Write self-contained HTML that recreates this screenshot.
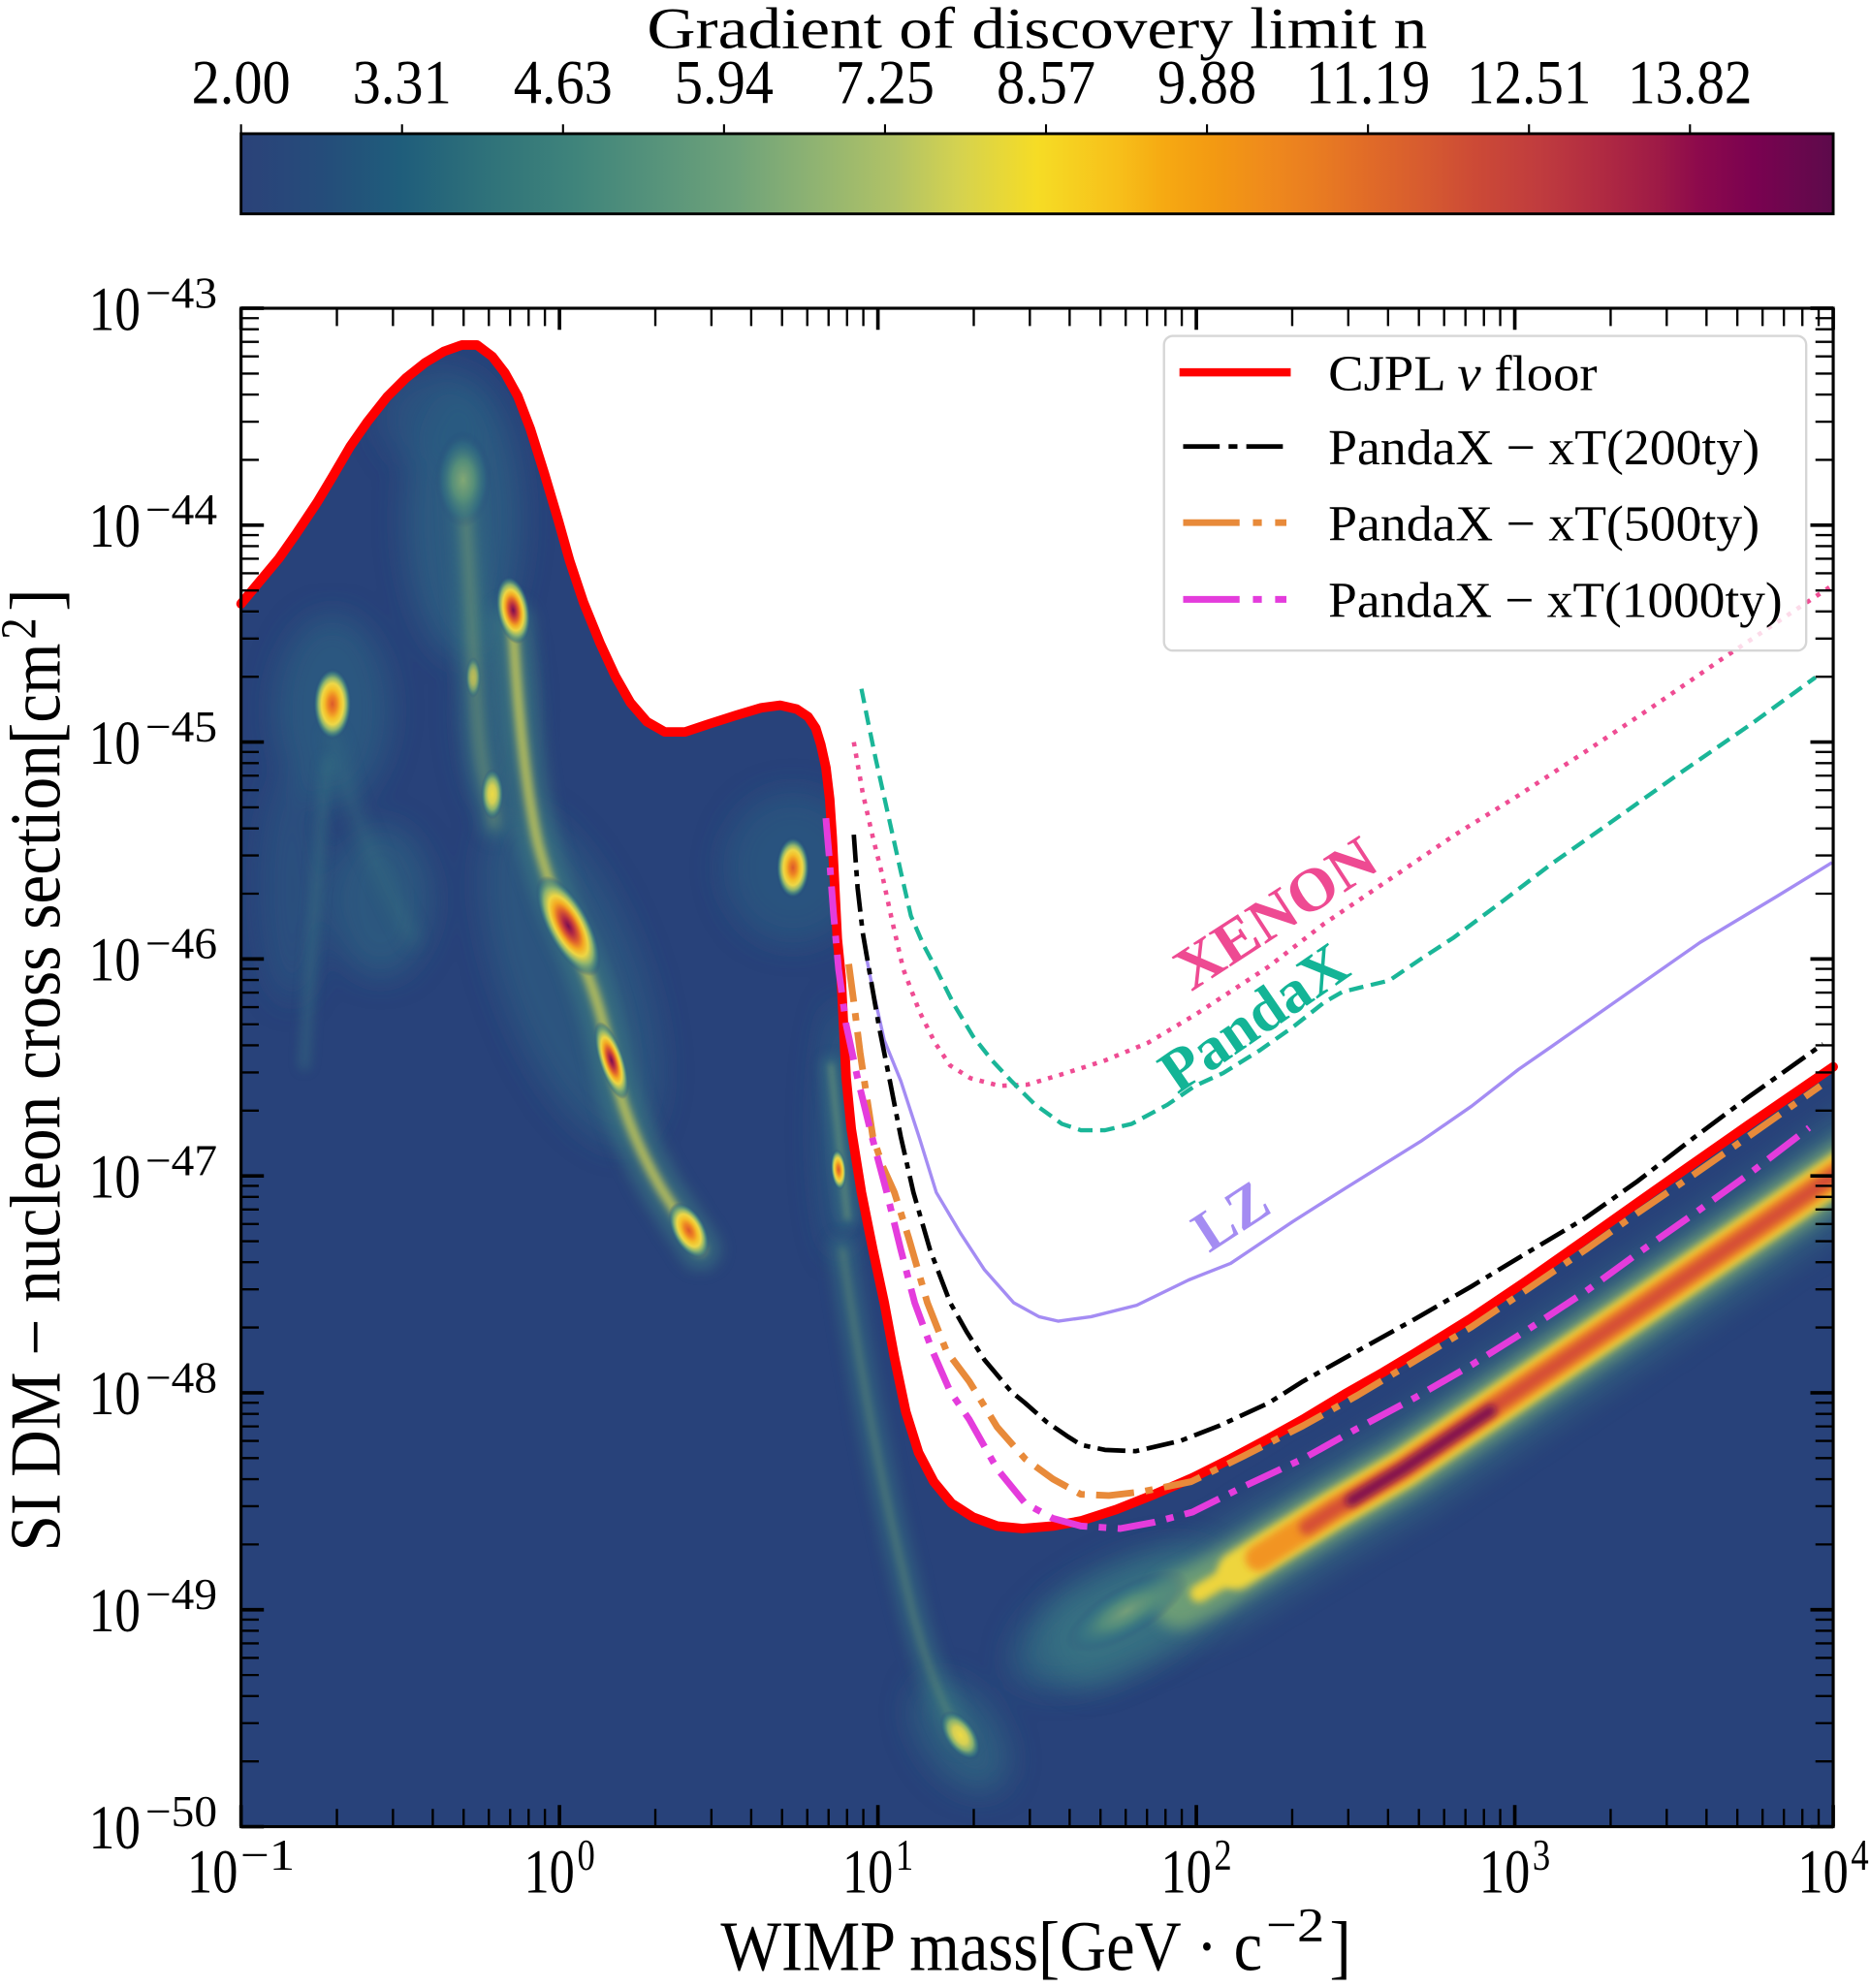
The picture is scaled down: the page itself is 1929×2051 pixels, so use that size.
<!DOCTYPE html>
<html>
<head>
<meta charset="utf-8">
<style>
html,body{margin:0;padding:0;background:#fff;overflow:hidden;}
svg{display:block;}
</style>
</head>
<body>
<svg xmlns="http://www.w3.org/2000/svg" width="1929" height="2051" viewBox="0 0 1474 1567.2" preserveAspectRatio="none" font-family="'Liberation Serif','DejaVu Serif',serif">
<defs>
  <linearGradient id="cb" x1="0" y1="0" x2="1" y2="0">
    <stop offset="0" stop-color="#2b4279"/>
    <stop offset="0.05" stop-color="#254c7a"/>
    <stop offset="0.10" stop-color="#1f5d7b"/>
    <stop offset="0.155" stop-color="#2f727a"/>
    <stop offset="0.21" stop-color="#3f847b"/>
    <stop offset="0.26" stop-color="#56937b"/>
    <stop offset="0.31" stop-color="#6ea27a"/>
    <stop offset="0.36" stop-color="#8fb372"/>
    <stop offset="0.41" stop-color="#b0c266"/>
    <stop offset="0.45" stop-color="#d4d250"/>
    <stop offset="0.50" stop-color="#f6dc25"/>
    <stop offset="0.55" stop-color="#f7c01a"/>
    <stop offset="0.58" stop-color="#f6a912"/>
    <stop offset="0.61" stop-color="#f39a12"/>
    <stop offset="0.645" stop-color="#ef8a1c"/>
    <stop offset="0.68" stop-color="#e87a22"/>
    <stop offset="0.71" stop-color="#e06a28"/>
    <stop offset="0.745" stop-color="#d65a30"/>
    <stop offset="0.775" stop-color="#cc4a36"/>
    <stop offset="0.815" stop-color="#c03c3e"/>
    <stop offset="0.855" stop-color="#b02a42"/>
    <stop offset="0.89" stop-color="#9e1a46"/>
    <stop offset="0.915" stop-color="#8d0a4c"/>
    <stop offset="0.95" stop-color="#7a0250"/>
    <stop offset="1" stop-color="#5d0b4b"/>
  </linearGradient>
  <radialGradient id="gHot">
    <stop offset="0" stop-color="#dc5a2c"/>
    <stop offset="0.22" stop-color="#ee8424"/>
    <stop offset="0.42" stop-color="#f5c02a"/>
    <stop offset="0.58" stop-color="#eed848"/>
    <stop offset="0.74" stop-color="#8db46f"/>
    <stop offset="0.88" stop-color="#3f7f82" stop-opacity="0.7"/>
    <stop offset="1" stop-color="#28427a" stop-opacity="0"/>
  </radialGradient>
  <radialGradient id="gRed">
    <stop offset="0" stop-color="#7a0e50"/>
    <stop offset="0.16" stop-color="#b42a44"/>
    <stop offset="0.32" stop-color="#e0622c"/>
    <stop offset="0.46" stop-color="#f4aa22"/>
    <stop offset="0.6" stop-color="#eed744"/>
    <stop offset="0.76" stop-color="#8ab270"/>
    <stop offset="0.9" stop-color="#3c7b82" stop-opacity="0.6"/>
    <stop offset="1" stop-color="#28427a" stop-opacity="0"/>
  </radialGradient>
  <radialGradient id="gYel">
    <stop offset="0" stop-color="#eedb46"/>
    <stop offset="0.35" stop-color="#d6d054"/>
    <stop offset="0.62" stop-color="#86b070"/>
    <stop offset="0.85" stop-color="#3a7a82" stop-opacity="0.6"/>
    <stop offset="1" stop-color="#28427a" stop-opacity="0"/>
  </radialGradient>
  <radialGradient id="gPale">
    <stop offset="0" stop-color="#8fb274"/>
    <stop offset="0.4" stop-color="#5c9679"/>
    <stop offset="0.75" stop-color="#347283" stop-opacity="0.6"/>
    <stop offset="1" stop-color="#28427a" stop-opacity="0"/>
  </radialGradient>
  <filter id="b1" filterUnits="userSpaceOnUse" x="0" y="0" width="1474" height="1567"><feGaussianBlur stdDeviation="2.5"/></filter>
  <filter id="b3" filterUnits="userSpaceOnUse" x="0" y="0" width="1474" height="1567"><feGaussianBlur stdDeviation="3"/></filter>
  <filter id="b4" filterUnits="userSpaceOnUse" x="0" y="0" width="1474" height="1567"><feGaussianBlur stdDeviation="4.5"/></filter>
  <filter id="b6" filterUnits="userSpaceOnUse" x="0" y="0" width="1474" height="1567"><feGaussianBlur stdDeviation="6"/></filter>
  <filter id="b12" filterUnits="userSpaceOnUse" x="0" y="0" width="1474" height="1567"><feGaussianBlur stdDeviation="12"/></filter>
  <clipPath id="heat">
    <path d="M190,476 L205,458 L220,440 L234,420 L250,396 L262,376 L276,352 L290,332 L305,313 L320,298 L335,286 L350,277 L364,272 L376,272 L388,281 L398,294 L408,312 L418,338 L429,373 L440,410 L449,442 L460,475 L473,507 L485,533 L497,554 L510,569 L524,577 L540,577 L558,571 L580,564 L600,558 L615,556 L628,559 L637,565 L643,574 L647,587 L651,605 L654,630 L656,660 L658,700 L660,740 L663,770 L665,810 L667,850 L671,890 L679,940 L688,985 L697,1027 L705,1070 L714,1113 L724,1145 L736,1168 L750,1185 L767,1196 L786,1203 L806,1205 L830,1203 L852,1199 L880,1190 L910,1178 L940,1165 L970,1150 L1000,1134 L1027,1119 L1060,1099 L1090,1082 L1115,1067 L1160,1039 L1203,1010 L1250,977 L1291,948 L1335,917 L1378,887 L1410,865 L1445,841 L1445,1440 L190,1440 Z"/>
  </clipPath>
  <path id="xm" d="M75.56,0v-14M119.76,0v-14M151.12,0v-14M175.44,0v-14M195.32,0v-14M212.12,0v-14M226.68,0v-14M239.52,0v-14" stroke="#000" stroke-width="1.8" fill="none"/>
  <path id="ym" d="M0,-51.48h14M0,-81.59h14M0,-102.95h14M0,-119.52h14M0,-133.06h14M0,-144.51h14M0,-154.43h14M0,-163.18h14" stroke="#000" stroke-width="1.8" fill="none"/>
</defs>

<!-- Colorbar -->
<text x="510" y="38" font-size="46" textLength="615" lengthAdjust="spacingAndGlyphs">Gradient of discovery limit n</text>
<g font-size="49">
  <text x="151" y="81.5" textLength="78" lengthAdjust="spacingAndGlyphs">2.00</text>
  <text x="277.9" y="81.5" textLength="78" lengthAdjust="spacingAndGlyphs">3.31</text>
  <text x="404.8" y="81.5" textLength="78" lengthAdjust="spacingAndGlyphs">4.63</text>
  <text x="531.7" y="81.5" textLength="78" lengthAdjust="spacingAndGlyphs">5.94</text>
  <text x="658.6" y="81.5" textLength="78" lengthAdjust="spacingAndGlyphs">7.25</text>
  <text x="785.5" y="81.5" textLength="78" lengthAdjust="spacingAndGlyphs">8.57</text>
  <text x="912.4" y="81.5" textLength="78" lengthAdjust="spacingAndGlyphs">9.88</text>
  <text x="1029.3" y="81.5" textLength="98" lengthAdjust="spacingAndGlyphs">11.19</text>
  <text x="1156.2" y="81.5" textLength="98" lengthAdjust="spacingAndGlyphs">12.51</text>
  <text x="1283.1" y="81.5" textLength="98" lengthAdjust="spacingAndGlyphs">13.82</text>
</g>
<rect x="190" y="105.4" width="1255" height="63.2" fill="url(#cb)" stroke="#000" stroke-width="2.2"/>
<path d="M190,105.4V98M316.9,105.4V98M443.8,105.4V98M570.7,105.4V98M697.6,105.4V98M824.5,105.4V98M951.4,105.4V98M1078.3,105.4V98M1205.2,105.4V98M1332.1,105.4V98" stroke="#000" stroke-width="1.6"/>

<!-- Heatmap -->
<g clip-path="url(#heat)">
  <rect x="190" y="243" width="1255" height="1197" fill="#28427a"/>
  <g filter="url(#b12)">
    <ellipse cx="262" cy="560" rx="45" ry="75" fill="#2f6683" opacity="0.6"/>
    <ellipse cx="365" cy="410" rx="45" ry="110" fill="#2e6583" opacity="0.7"/>
    <ellipse cx="345" cy="330" rx="45" ry="40" fill="#2b5a82" opacity="0.6"/>
    <ellipse cx="625" cy="684" rx="55" ry="60" fill="#2d6283" opacity="0.5"/>
    <ellipse cx="450" cy="770" rx="55" ry="140" transform="rotate(-20 450 770)" fill="#2e6583" opacity="0.55"/>
    <ellipse cx="662" cy="890" rx="16" ry="100" fill="#2e6583" opacity="0.6"/>
    <ellipse cx="880" cy="1275" rx="90" ry="40" transform="rotate(-28 880 1275)" fill="#336f83" opacity="0.7"/>
    <ellipse cx="757" cy="1368" rx="30" ry="50" transform="rotate(-35 757 1368)" fill="#336f83" opacity="0.6"/>
    <ellipse cx="300" cy="710" rx="40" ry="60" fill="#2f6a83" opacity="0.55"/>
    <ellipse cx="390" cy="560" rx="25" ry="80" fill="#2f6a83" opacity="0.5"/>
    <ellipse cx="230" cy="700" rx="25" ry="90" fill="#2c5f83" opacity="0.45"/>
  </g>
  <!-- streak halos -->
  <g fill="none" stroke-linecap="round">
    <path d="M258,600 C252,660 246,740 240,840" stroke="#3a7882" stroke-width="9" opacity="0.45" filter="url(#b4)"/>
    <path d="M262,580 C275,640 300,690 325,740" stroke="#3a7882" stroke-width="12" opacity="0.35" filter="url(#b6)"/>
    <path d="M365,380 C370,440 372,500 376,560 S386,620 390,650" stroke="#3c7c83" stroke-width="24" opacity="0.5" filter="url(#b6)"/>
    <path d="M365,380 C370,440 372,500 376,560 S386,620 390,650" stroke="#a8bc62" stroke-width="6" opacity="0.45" filter="url(#b4)"/>
    <path d="M404,490 C408,560 414,620 424,665 C432,695 442,720 455,748 C468,778 476,805 482,836 C488,866 500,900 520,935 C532,955 542,968 552,985" stroke="#3f8082" stroke-width="32" opacity="0.6" filter="url(#b6)"/>
    <path d="M404,490 C408,560 414,620 424,665 C432,695 442,720 455,748 C468,778 476,805 482,836 C488,866 500,900 520,935 C532,955 542,968 552,985" stroke="#b9c25e" stroke-width="9" opacity="0.75" filter="url(#b3)"/>
    <path d="M404,490 C408,560 414,620 424,665 C432,695 442,720 455,748 C468,778 476,805 482,836 C488,866 500,900 520,935 C532,955 542,968 552,985" stroke="#e2d64a" stroke-width="3" opacity="0.5" filter="url(#b1)"/>
    <path d="M655,840 L668,960" stroke="#3c7c83" stroke-width="16" opacity="0.5" filter="url(#b4)"/>
    <path d="M655,840 L668,960" stroke="#8fb070" stroke-width="4" opacity="0.45" filter="url(#b1)"/>
    <path d="M664,985 C675,1060 690,1150 712,1240 C725,1300 740,1340 757,1368" stroke="#3a7a82" stroke-width="20" opacity="0.55" filter="url(#b6)"/>
    <path d="M664,985 C675,1060 690,1150 712,1240 C725,1300 740,1340 757,1368" stroke="#8fb46a" stroke-width="4" opacity="0.35" filter="url(#b3)"/>
  </g>
  <!-- band -->
  <g fill="none" stroke-linecap="round" stroke-linejoin="round">
    <path d="M860,1292 L955,1250 L1000,1222 L1050,1191 L1106,1158 L1200,1094 L1300,1026 L1470,910" stroke="#3c7d84" stroke-width="72" opacity="0.55" filter="url(#b12)"/>
    <path d="M930,1262 L955,1250 L1000,1222 L1050,1191 L1106,1158 L1200,1094 L1300,1026 L1470,910" stroke="#7fac72" stroke-width="44" opacity="0.75" filter="url(#b6)"/>
    <path d="M945,1256 L990,1229" stroke="#eed53e" stroke-width="14" filter="url(#b3)"/>
    <path d="M975,1238 L1000,1222 L1050,1191 L1106,1158 L1200,1094 L1300,1026 L1470,910" stroke="#eed53e" stroke-width="30" filter="url(#b3)"/>
    <path d="M992,1228 L1050,1191 L1106,1158 L1200,1094 L1300,1026 L1470,910" stroke="#f29422" stroke-width="21" filter="url(#b3)"/>
    <path d="M1030,1204 L1050,1191 L1106,1158 L1200,1094 L1300,1026 L1470,910" stroke="#d65034" stroke-width="12" filter="url(#b3)"/>
    <path d="M1065,1183 L1106,1158 L1175,1112" stroke="#7e0f50" stroke-width="9" filter="url(#b3)"/>
  </g>
  <!-- hot spots -->
  <ellipse cx="365" cy="378" rx="22" ry="38" fill="url(#gPale)" opacity="0.85"/>
  <ellipse cx="262" cy="555" rx="15" ry="28" fill="url(#gHot)"/>
  <ellipse cx="0" cy="0" rx="13" ry="27" fill="url(#gRed)" transform="translate(404.5,481) rotate(-10)"/>
  <ellipse cx="388" cy="626" rx="9" ry="20" fill="url(#gYel)"/>
  <ellipse cx="373" cy="534" rx="6" ry="16" fill="url(#gYel)" opacity="0.7"/>
  <ellipse cx="0" cy="0" rx="17" ry="44" fill="url(#gRed)" transform="translate(448,730) rotate(-28)"/>
  <ellipse cx="0" cy="0" rx="10" ry="32" fill="url(#gRed)" transform="translate(482,836) rotate(-18)"/>
  <ellipse cx="0" cy="0" rx="13" ry="24" fill="url(#gHot)" transform="translate(543,970) rotate(-28)"/>
  <ellipse cx="625" cy="684" rx="13" ry="24" fill="url(#gHot)"/>
  <ellipse cx="0" cy="0" rx="6" ry="16" fill="url(#gHot)" transform="translate(661,922) rotate(-5)"/>
  <ellipse cx="0" cy="0" rx="12" ry="22" fill="url(#gYel)" transform="translate(757,1368) rotate(-35)"/>
  <ellipse cx="0" cy="0" rx="55" ry="20" fill="url(#gPale)" opacity="0.7" transform="translate(888,1270) rotate(-30)"/>
</g>

<!-- curves -->
<g fill="none" stroke-linejoin="round">
  <path d="M673,585 L680,625 L688,660 L695,688 L703,725 L712,764 L725,798 L737,822 L749,840 L765,850 L788,856 L810,855 L840,846 L871,836 L905,822 L942,800 L1000,762 L1044,728 L1100,690 L1147,658 L1197,627 L1252,591 L1300,559 L1358,519 L1400,491 L1442,463" stroke="#ef4c93" stroke-width="3.5" stroke-dasharray="3.5 5.7"/>
  <path d="M679,543 L684,568 L690,597 L700,642 L710,687 L718,722 L728,745 L738,764 L752,792 L767,817 L782,836 L797,852 L815,870 L837,886 L852,891 L871,891 L892,886 L920,871 L942,856 L964,846 L993,828 L1020,809 L1044,790 L1058,782 L1070,779 L1095,773 L1120,756 L1146,739 L1185,710 L1223,681 L1270,648 L1322,611 L1380,571 L1431,534" stroke="#1ab698" stroke-width="3.3" stroke-dasharray="11.5 6"/>
  <path d="M682,750 L688,780 L697,820 L710,852 L725,898 L738,940 L757,972 L776,1001 L799,1027 L819,1038 L834,1041.5 L860,1038 L896,1029 L937,1009 L970,996 L1019,963 L1060,937 L1121,899 L1160,872 L1197,843 L1223,825 L1270,792 L1340,743 L1400,707 L1444,680" stroke="#a48cf3" stroke-width="2.6"/>
  <path d="M190,476 L205,458 L220,440 L234,420 L250,396 L262,376 L276,352 L290,332 L305,313 L320,298 L335,286 L350,277 L364,272 L376,272 L388,281 L398,294 L408,312 L418,338 L429,373 L440,410 L449,442 L460,475 L473,507 L485,533 L497,554 L510,569 L524,577 L540,577 L558,571 L580,564 L600,558 L615,556 L628,559 L637,565 L643,574 L647,587 L651,605 L654,630 L656,660 L658,700 L660,740 L663,770 L665,810 L667,850 L671,890 L679,940 L688,985 L697,1027 L705,1070 L714,1113 L724,1145 L736,1168 L750,1185 L767,1196 L786,1203 L806,1205 L830,1203 L852,1199 L880,1190 L910,1178 L940,1165 L970,1150 L1000,1134 L1027,1119 L1060,1099 L1090,1082 L1115,1067 L1160,1039 L1203,1010 L1250,977 L1291,948 L1335,917 L1378,887 L1410,865 L1445,841" stroke="#ff0000" stroke-width="7.5" stroke-linecap="round"/>
  <path d="M673,658 L676,700 L680,735 L685,764 L693,810 L702,855 L710,896 L720,940 L733,985 L749,1027 L762,1050 L776,1072 L797,1097 L808,1106 L825,1121 L841,1132 L852,1139 L871,1143 L895,1144 L930,1136 L961,1124 L1000,1106 L1027,1089 L1070,1065 L1115,1040 L1160,1014 L1203,988 L1250,960 L1291,931 L1335,897 L1378,865 L1437,823" stroke="#000" stroke-width="3.6" stroke-dasharray="22 6 5 6"/>
  <path d="M669,760 L673,790 L678,830 L684,870 L688,896 L696,920 L705,940 L716,975 L731,1027 L746,1065 L764,1089 L786,1125 L808,1150 L830,1166 L852,1178 L874,1179 L900,1176 L939,1168 L980,1148 L1027,1124 L1070,1100 L1115,1073 L1160,1046 L1203,1017 L1250,985 L1291,956 L1335,926 L1378,896 L1435,856" stroke="#e88a3a" stroke-width="5.3" stroke-dasharray="30 9 6 9"/>
  <path d="M651,645 L654,680 L657,720 L661,764 L667,808 L676,850 L687,895 L699,940 L710,985 L721,1027 L735,1065 L749,1097 L764,1119 L786,1158 L808,1185 L830,1197 L852,1203 L883,1205 L910,1200 L940,1192 L980,1172 L1027,1150 L1070,1126 L1115,1102 L1160,1076 L1203,1049 L1250,1018 L1291,988 L1335,957 L1378,926 L1426,889" stroke="#e43cdc" stroke-width="5.3" stroke-dasharray="30 9 6 9"/>
</g>

<!-- rotated labels -->
<text transform="translate(939,782) rotate(-33)" font-size="48" font-weight="bold" fill="#ee4a92" textLength="179" lengthAdjust="spacingAndGlyphs">XENON</text>
<text transform="translate(928,863) rotate(-34.5)" font-size="48" font-weight="bold" fill="#13b496" textLength="168" lengthAdjust="spacingAndGlyphs">PandaX</text>
<text transform="translate(953,988) rotate(-33)" font-size="46" font-weight="bold" fill="#a48cf2" textLength="61" lengthAdjust="spacingAndGlyphs">LZ</text>

<!-- legend -->
<rect x="917.5" y="264.8" width="506.2" height="248.1" rx="7" ry="7" fill="#ffffff" fill-opacity="0.8" stroke="#cccccc" stroke-opacity="0.8" stroke-width="1.8"/>
<path d="M929.7,293.5H1017.4" stroke="#ff0000" stroke-width="6.5"/>
<path d="M932.6,352H1011.4" stroke="#000" stroke-width="3.6" stroke-dasharray="28.8 7 7 7"/>
<path d="M932.6,412H1014" stroke="#e88a3a" stroke-width="5.3" stroke-dasharray="44.5 10.5 7 10.5"/>
<path d="M932.6,472.5H1014" stroke="#e43cdc" stroke-width="5.3" stroke-dasharray="44.5 10.5 7 10.5"/>
<g font-size="40">
  <text x="1047" y="307.5" textLength="212" lengthAdjust="spacingAndGlyphs">CJPL <tspan font-style="italic">ν</tspan> floor</text>
  <text x="1047" y="366" textLength="340" lengthAdjust="spacingAndGlyphs">PandaX − xT(200ty)</text>
  <text x="1047" y="426" textLength="340" lengthAdjust="spacingAndGlyphs">PandaX − xT(500ty)</text>
  <text x="1047" y="486.5" textLength="358" lengthAdjust="spacingAndGlyphs">PandaX − xT(1000ty)</text>
</g>

<!-- frame and ticks -->
<rect x="190" y="243" width="1255" height="1197" fill="none" stroke="#000" stroke-width="2.4"/>
<use href="#xm" transform="translate(190,1440)"/>
<use href="#xm" transform="translate(441,1440)"/>
<use href="#xm" transform="translate(692,1440)"/>
<use href="#xm" transform="translate(943,1440)"/>
<use href="#xm" transform="translate(1194,1440)"/>
<use href="#xm" transform="translate(190,243) scale(1,-1)"/>
<use href="#xm" transform="translate(441,243) scale(1,-1)"/>
<use href="#xm" transform="translate(692,243) scale(1,-1)"/>
<use href="#xm" transform="translate(943,243) scale(1,-1)"/>
<use href="#xm" transform="translate(1194,243) scale(1,-1)"/>
<use href="#ym" transform="translate(190,1440)"/>
<use href="#ym" transform="translate(190,1269)"/>
<use href="#ym" transform="translate(190,1098)"/>
<use href="#ym" transform="translate(190,927)"/>
<use href="#ym" transform="translate(190,756)"/>
<use href="#ym" transform="translate(190,585)"/>
<use href="#ym" transform="translate(190,414)"/>
<use href="#ym" transform="translate(1445,1440) scale(-1,1)"/>
<use href="#ym" transform="translate(1445,1269) scale(-1,1)"/>
<use href="#ym" transform="translate(1445,1098) scale(-1,1)"/>
<use href="#ym" transform="translate(1445,927) scale(-1,1)"/>
<use href="#ym" transform="translate(1445,756) scale(-1,1)"/>
<use href="#ym" transform="translate(1445,585) scale(-1,1)"/>
<use href="#ym" transform="translate(1445,414) scale(-1,1)"/>
<path d="M190,1440v-17M441,1440v-17M692,1440v-17M943,1440v-17M1194,1440v-17M1445,1440v-17M190,243v17M441,243v17M692,243v17M943,243v17M1194,243v17M1445,243v17M190,243h18M190,414h18M190,585h18M190,756h18M190,927h18M190,1098h18M190,1269h18M190,1440h18M1445,243h-18M1445,414h-18M1445,585h-18M1445,756h-18M1445,927h-18M1445,1098h-18M1445,1269h-18M1445,1440h-18" stroke="#000" stroke-width="2.8" fill="none"/>

<!-- x tick labels -->
<g>
  <text x="147.5" y="1492" font-size="49" textLength="40" lengthAdjust="spacingAndGlyphs">10</text>
  <text x="189.5" y="1474" font-size="35" textLength="43" lengthAdjust="spacingAndGlyphs">−1</text>
  <text x="413" y="1492" font-size="49" textLength="40" lengthAdjust="spacingAndGlyphs">10</text>
  <text x="455" y="1474" font-size="35" textLength="14" lengthAdjust="spacingAndGlyphs">0</text>
  <text x="664" y="1492" font-size="49" textLength="40" lengthAdjust="spacingAndGlyphs">10</text>
  <text x="706" y="1474" font-size="35" textLength="14" lengthAdjust="spacingAndGlyphs">1</text>
  <text x="915" y="1492" font-size="49" textLength="40" lengthAdjust="spacingAndGlyphs">10</text>
  <text x="957" y="1474" font-size="35" textLength="14" lengthAdjust="spacingAndGlyphs">2</text>
  <text x="1166" y="1492" font-size="49" textLength="40" lengthAdjust="spacingAndGlyphs">10</text>
  <text x="1208" y="1474" font-size="35" textLength="14" lengthAdjust="spacingAndGlyphs">3</text>
  <text x="1417" y="1492" font-size="49" textLength="40" lengthAdjust="spacingAndGlyphs">10</text>
  <text x="1459" y="1474" font-size="35" textLength="14" lengthAdjust="spacingAndGlyphs">4</text>
</g>
<!-- y tick labels -->
<g>
  <text x="70" y="260" font-size="49" textLength="40.8" lengthAdjust="spacingAndGlyphs">10</text>
  <text x="114.6" y="242.5" font-size="35" textLength="56.6" lengthAdjust="spacingAndGlyphs">−43</text>
  <text x="70" y="431" font-size="49" textLength="40.8" lengthAdjust="spacingAndGlyphs">10</text>
  <text x="114.6" y="413.5" font-size="35" textLength="56.6" lengthAdjust="spacingAndGlyphs">−44</text>
  <text x="70" y="602" font-size="49" textLength="40.8" lengthAdjust="spacingAndGlyphs">10</text>
  <text x="114.6" y="584.5" font-size="35" textLength="56.6" lengthAdjust="spacingAndGlyphs">−45</text>
  <text x="70" y="773" font-size="49" textLength="40.8" lengthAdjust="spacingAndGlyphs">10</text>
  <text x="114.6" y="755.5" font-size="35" textLength="56.6" lengthAdjust="spacingAndGlyphs">−46</text>
  <text x="70" y="944" font-size="49" textLength="40.8" lengthAdjust="spacingAndGlyphs">10</text>
  <text x="114.6" y="926.5" font-size="35" textLength="56.6" lengthAdjust="spacingAndGlyphs">−47</text>
  <text x="70" y="1115" font-size="49" textLength="40.8" lengthAdjust="spacingAndGlyphs">10</text>
  <text x="114.6" y="1097.5" font-size="35" textLength="56.6" lengthAdjust="spacingAndGlyphs">−48</text>
  <text x="70" y="1286" font-size="49" textLength="40.8" lengthAdjust="spacingAndGlyphs">10</text>
  <text x="114.6" y="1268.5" font-size="35" textLength="56.6" lengthAdjust="spacingAndGlyphs">−49</text>
  <text x="70" y="1457" font-size="49" textLength="40.8" lengthAdjust="spacingAndGlyphs">10</text>
  <text x="114.6" y="1439.5" font-size="35" textLength="56.6" lengthAdjust="spacingAndGlyphs">−50</text>
</g>

<!-- axis labels -->
<text x="568" y="1553" font-size="56" textLength="427" lengthAdjust="spacingAndGlyphs">WIMP mass[GeV · c</text>
<text x="998" y="1530" font-size="38" textLength="46" lengthAdjust="spacingAndGlyphs">−2</text>
<text x="1048" y="1553" font-size="56" textLength="17" lengthAdjust="spacingAndGlyphs">]</text>

<g transform="translate(47,1223) rotate(-90)">
  <text x="0" y="0" font-size="57" textLength="716" lengthAdjust="spacingAndGlyphs">SI DM − nucleon cross section[cm</text>
  <text x="719" y="-19" font-size="40" textLength="17" lengthAdjust="spacingAndGlyphs">2</text>
  <text x="741" y="0" font-size="57" textLength="18" lengthAdjust="spacingAndGlyphs">]</text>
</g>
</svg>
</body>
</html>
